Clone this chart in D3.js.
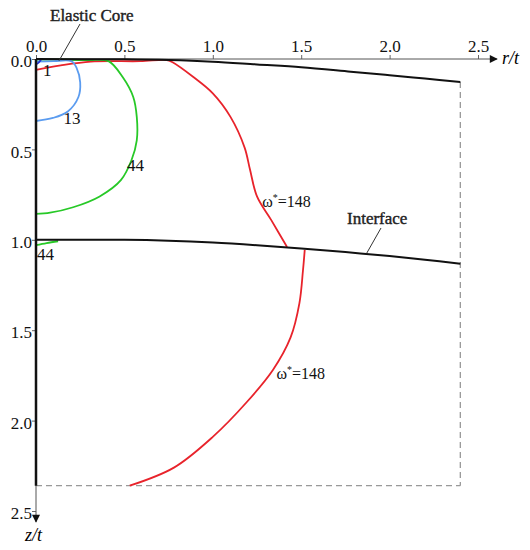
<!DOCTYPE html>
<html>
<head>
<meta charset="utf-8">
<script src="https://cdn.jsdelivr.net/npm/d3@7/dist/d3.min.js"></script>
<style>
  body { margin: 0; background: #fff; }
  text { font-family: "Liberation Serif", "Times New Roman", serif; }
</style>
</head>
<body>
<script>
'use strict';

// tick values for both axes
const xTicks = [0, 0.5, 1.0, 1.5, 2.0, 2.5];
const yTicks = [0, 0.5, 1.0, 1.5, 2.0, 2.5];

// model boundary: top surface and the interface (r/t, z/t)
const surface = [[0, 0], [0.5, 0.002], [0.75, 0.006], [1.0, 0.015], [1.25, 0.03], [1.5, 0.045],
  [1.78, 0.07], [2.0, 0.09], [2.2, 0.108], [2.4, 0.127]];
const interfaceLine = [[0, 1.0], [0.5, 1.0], [0.75, 1.005], [1.0, 1.015], [1.25, 1.03], [1.5, 1.048],
  [1.75, 1.068], [2.0, 1.09], [2.2, 1.11], [2.4, 1.133]];
const boxRight = [[2.4, 0.127], [2.4, 2.36]];
const boxBottom = [[0, 2.36], [2.4, 2.36]];
const symAxis = [[0, 0], [0, 2.36]];

// contour lines of w* = 1, 13, 44, 148
const w1 = [[0, 0.03], [0.015, 0.02], [0.025, 0.008], [0.03, 0]];
const w13 = [[0, 0.015], [0.1, 0.012], [0.2, 0.012], [0.23, 0.05], [0.25, 0.13], [0.24, 0.21],
  [0.18, 0.29], [0.096, 0.326], [0, 0.343]];
const w44a = [[0, 0.004], [0.15, 0.004], [0.3, 0.006], [0.41, 0.012], [0.49, 0.10], [0.55, 0.21],
  [0.57, 0.32], [0.57, 0.45], [0.54, 0.56], [0.48, 0.67], [0.36, 0.76], [0.21, 0.82], [0.08, 0.85], [0, 0.857]];
const w44b = [[0, 1.03], [0.06, 1.018], [0.125, 1.008]];
const w148a = [[0, 0.06], [0.14, 0.035], [0.31, 0.014], [0.59, 0.012], [0.74, 0.006], [0.77, 0.017],
  [0.89, 0.10], [1.0, 0.19], [1.1, 0.32], [1.18, 0.49], [1.21, 0.61], [1.25, 0.76], [1.33, 0.89], [1.42, 1.04]];
const w148b = [[1.52, 1.056], [1.51, 1.17], [1.49, 1.35], [1.44, 1.54], [1.34, 1.72], [1.19, 1.90],
  [1.0, 2.09], [0.78, 2.26], [0.53, 2.36]];

const width = 530;
const height = 550;

let svg = d3.select('body').append('svg')
  .attr('width', width)
  .attr('height', height);

let xScale = d3.scaleLinear().domain([0, 2.5]).range([36, 478]);
let yScale = d3.scaleLinear().domain([0, 2.5]).range([59, 511]);

let line = d3.line()
  .x((d) => xScale(d[0]))
  .y((d) => yScale(d[1]));

// smooth line for the contours
let smooth = d3.line()
  .x((d) => xScale(d[0]))
  .y((d) => yScale(d[1]))
  .curve(d3.curveCatmullRom.alpha(0.5));

// arrow heads
let defs = svg.append('defs');
defs.append('marker')
  .attr('id', 'arrow')
  .attr('viewBox', '0 0 10 10')
  .attr('refX', 9).attr('refY', 5)
  .attr('markerWidth', 10).attr('markerHeight', 8)
  .attr('markerUnits', 'userSpaceOnUse')
  .attr('orient', 'auto')
  .append('path')
  .attr('d', 'M0,0 L10,5 L0,10 Z')
  .attr('fill', '#111');

// x axis on top
let xAxis = d3.axisTop(xScale)
  .tickValues(xTicks)
  .tickFormat(d3.format('.1f'))
  .tickSize(4)
  .tickPadding(3);
let gx = svg.append('g')
  .attr('transform', 'translate(0,' + yScale(0) + ')')
  .call(xAxis);

// y axis on left
let yAxis = d3.axisLeft(yScale)
  .tickValues(yTicks)
  .tickFormat(d3.format('.1f'))
  .tickSize(4)
  .tickPadding(0);
let gy = svg.append('g')
  .attr('transform', 'translate(' + xScale(0) + ',0)')
  .call(yAxis);

[gx, gy].forEach((g) => {
  g.attr('font-family', null);
  g.select('.domain').remove();
  g.selectAll('.tick line').attr('stroke', '#666');
  g.selectAll('.tick text')
    .attr('fill', '#111')
    .style('font-size', '17px')
    .style('font-family', '"Liberation Serif", "Times New Roman", serif');
});
gy.selectAll('.tick text').attr('dy', '0.45em');

// axis lines with arrows
svg.append('line')
  .attr('x1', xScale(0)).attr('y1', yScale(0))
  .attr('x2', 497).attr('y2', yScale(0))
  .attr('stroke', '#555').attr('stroke-width', 1)
  .attr('marker-end', 'url(#arrow)');
svg.append('line')
  .attr('x1', xScale(0)).attr('y1', yScale(0))
  .attr('x2', xScale(0)).attr('y2', 522)
  .attr('stroke', '#555').attr('stroke-width', 1)
  .attr('marker-end', 'url(#arrow)');

svg.append('text')
  .attr('x', 502).attr('y', 64)
  .style('font-size', '18px').style('font-style', 'italic')
  .text('r/t');
svg.append('text')
  .attr('x', 25).attr('y', 541)
  .style('font-size', '18px').style('font-style', 'italic')
  .text('z/t');

// dashed model box
[boxRight, boxBottom].forEach((d) => {
  svg.append('path')
    .attr('d', line(d))
    .attr('fill', 'none')
    .attr('stroke', '#999')
    .attr('stroke-width', 1.3)
    .attr('stroke-dasharray', '6,4');
});

// contours
let contours = [
  { data: w148a, color: '#e8232b' },
  { data: w148b, color: '#e8232b' },
  { data: w44a, color: '#27c927' },
  { data: w44b, color: '#27c927' },
  { data: w13, color: '#5b9cf0' },
  { data: w1, color: '#1f2fd0' }
];
contours.forEach((c) => {
  svg.append('path')
    .attr('d', smooth(c.data))
    .attr('fill', 'none')
    .attr('stroke', c.color)
    .attr('stroke-width', 1.8);
});

// surface, interface and symmetry axis
[surface, interfaceLine].forEach((d) => {
  svg.append('path')
    .attr('d', smooth(d))
    .attr('fill', 'none')
    .attr('stroke', '#111')
    .attr('stroke-width', 2);
});
svg.append('path')
  .attr('d', line(symAxis))
  .attr('fill', 'none')
  .attr('stroke', '#111')
  .attr('stroke-width', 2.5);

// contour labels
function label(x, y, txt) {
  return svg.append('text')
    .attr('x', x).attr('y', y)
    .style('font-size', '17px')
    .attr('fill', '#111')
    .text(txt);
}
label(xScale(0.04), yScale(0.095), '1');
label(xScale(0.155), yScale(0.36), '13');
label(xScale(0.515), yScale(0.62), '44');
label(xScale(0.005), yScale(1.11), '44');

function omegaLabel(x, y) {
  let t = svg.append('text')
    .attr('x', x).attr('y', y)
    .style('font-size', '16px')
    .attr('fill', '#111');
  t.append('tspan').text('ω');
  t.append('tspan').attr('dy', -6).style('font-size', '10px').text('*');
  t.append('tspan').attr('dy', 6).text('=148');
}
omegaLabel(xScale(1.28), yScale(0.82));
omegaLabel(xScale(1.36), yScale(1.77));

// annotations with leader lines
svg.append('text')
  .attr('x', 50).attr('y', 21)
  .style('font-size', '17px')
  .attr('fill', '#222')
  .attr('stroke', '#222')
  .attr('stroke-width', 0.4)
  .text('Elastic Core');
svg.append('line')
  .attr('x1', 80).attr('y1', 24)
  .attr('x2', xScale(0.13)).attr('y2', yScale(0.01))
  .attr('stroke', '#333').attr('stroke-width', 1);

svg.append('text')
  .attr('x', 347).attr('y', 224)
  .style('font-size', '17px')
  .attr('fill', '#222')
  .attr('stroke', '#222')
  .attr('stroke-width', 0.4)
  .text('Interface');
svg.append('line')
  .attr('x1', 381).attr('y1', 228)
  .attr('x2', xScale(1.87)).attr('y2', yScale(1.075))
  .attr('stroke', '#333').attr('stroke-width', 1);
</script>
</body>
</html>
